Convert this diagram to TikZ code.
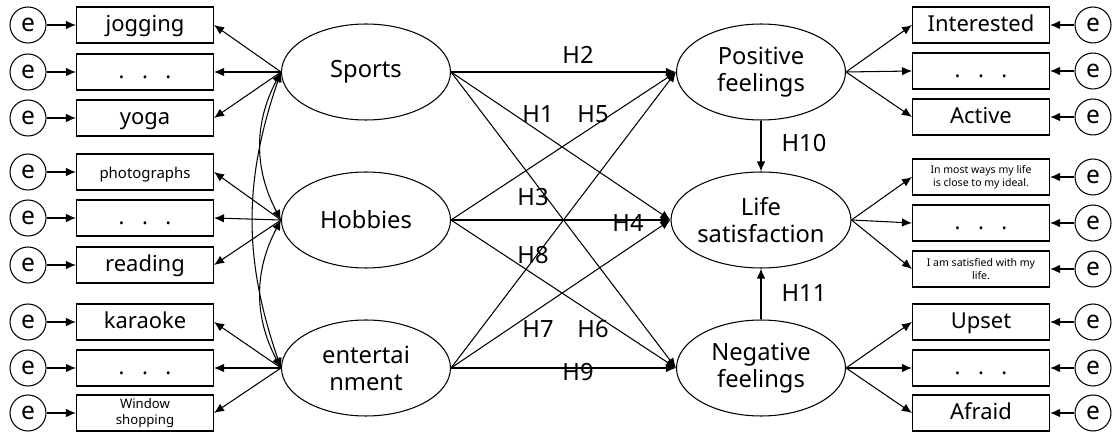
\documentclass[tikz,border=0pt]{standalone}
\usepackage{fontspec}
\setmainfont{Noto Sans}
\usetikzlibrary{arrows.meta, shapes, positioning}
\tikzset{
  latent/.style = {ellipse, draw, minimum width=3.38cm, minimum height=1.92cm,
    inner sep=0pt, align=center, font=\fontsize{13.5}{15.5}\selectfont},
  item/.style = {rectangle, draw, minimum width=2.74cm, minimum height=0.72cm,
    inner sep=1pt, align=center, font=\fontsize{12.5}{15}\selectfont},
  oneline/.style = {text height=1.6ex, text depth=0.2ex},
  smalltext/.style = {font=\fontsize{8.5}{10}\selectfont},
  tinytext/.style = {font=\fontsize{6}{7.5}\selectfont},
  err/.style = {circle, draw, minimum size=0.72cm, inner sep=0pt,
    font=\fontsize{14}{15}\selectfont},
  link/.style = {-{Latex[length=2mm, width=1.7mm]}},
  cov/.style = {{Latex[length=2mm, width=1.7mm]}-{Latex[length=2mm, width=1.7mm]}},
  hyp/.style = {font=\fontsize{13.5}{15}\selectfont, inner sep=0pt}
}
\newcommand\itemdots{\textbf{.}\hspace{0.35cm}\textbf{.}\hspace{0.35cm}\textbf{.}}

\begin{document}
\begin{tikzpicture}[x=0.02cm, y=-0.02cm, line width=0.6pt]
  \useasboundingbox (0,0) rectangle (1113,432);

  % Latent variables
  \node[latent] (sports) at (366,72) {Sports};
  \node[latent] (hobbies) at (366,220) {Hobbies};
  \node[latent] (ent) at (366,368) {entertai\\nment};
  \node[latent] (pos) at (761,72) {Positive\\feelings};
  \node[latent] (life) at (761,220) {Life\\satisfaction};
  \node[latent] (neg) at (761,368) {Negative\\feelings};

  % Items, left
  \node[item, oneline] (jog) at (145,25) {jogging};
  \node[item, oneline] (sdots) at (145,72) {\itemdots};
  \node[item, oneline] (yoga) at (145,118) {yoga};
  \node[item, oneline, smalltext] (photo) at (145,172) {photographs};
  \node[item, oneline] (hdots) at (145,218) {\itemdots};
  \node[item, oneline] (read) at (145,265) {reading};
  \node[item, oneline] (kara) at (145,322) {karaoke};
  \node[item, oneline] (edots) at (145,368) {\itemdots};
  \node[item, font=\fontsize{7.5}{9}\selectfont] (window) at (145,413) {Window\\shopping};

  % Items, right
  \node[item, oneline] (inter) at (981,25) {Interested};
  \node[item, oneline] (pdots) at (981,71) {\itemdots};
  \node[item, oneline] (active) at (981,117) {Active};
  \node[item, tinytext] (ideal) at (981,177) {In most ways my life\\is close to my ideal.};
  \node[item, oneline] (ldots) at (981,223) {\itemdots};
  \node[item, tinytext] (satis) at (981,269) {I am satisfied with my\\life.};
  \node[item, oneline] (upset) at (981,322) {Upset};
  \node[item, oneline] (ndots) at (981,368) {\itemdots};
  \node[item, oneline] (afraid) at (981,413) {Afraid};

  % Error terms
  \foreach \n/\y in {jog/25, sdots/72, yoga/118, photo/172, hdots/218, read/265,
                     kara/322, edots/368, window/413} {
    \node[err] (e-\n) at (28,\y) {e};
    \draw[link] (e-\n) -- (\n);
  }
  \foreach \n/\y in {inter/25, pdots/71, active/117, ideal/177, ldots/223, satis/269,
                     upset/322, ndots/368, afraid/413} {
    \node[err] (e-\n) at (1093,\y) {e};
    \draw[link] (e-\n) -- (\n);
  }

  % Loadings
  \foreach \f/\a/\b/\c in {sports/jog/sdots/yoga, hobbies/photo/hdots/read,
                           ent/kara/edots/window} {
    \draw[link] (\f.west) -- (\a.east);
    \draw[link] (\f.west) -- (\b.east);
    \draw[link] (\f.west) -- (\c.east);
  }
  \foreach \f/\a/\b/\c in {pos/inter/pdots/active, life/ideal/ldots/satis,
                           neg/upset/ndots/afraid} {
    \draw[link] (\f.east) -- (\a.west);
    \draw[link] (\f.east) -- (\b.west);
    \draw[link] (\f.east) -- (\c.west);
  }

  % Covariances
  \draw[cov] (sports.west) to[bend right=28] (hobbies.west);
  \draw[cov] (hobbies.west) to[bend right=28] (ent.west);
  \draw[cov] (sports.west) to[bend right=19] (ent.west);

  % Hypotheses
  \draw[link] (sports.east) -- (pos.west);
  \draw[link] (sports.east) -- (life.west);
  \draw[link] (sports.east) -- (neg.west);
  \draw[link] (hobbies.east) -- (pos.west);
  \draw[link] (hobbies.east) -- (life.west);
  \draw[link] (hobbies.east) -- (neg.west);
  \draw[link] (ent.east) -- (pos.west);
  \draw[link] (ent.east) -- (life.west);
  \draw[link] (ent.east) -- (neg.west);
  \draw[link] (pos) -- (life);
  \draw[link] (neg) -- (life);

  \node[hyp] (h2) at (578,55) {H2};
  \node[hyp] (h1) at (538,114) {H1};
  \node[hyp] (h5) at (593,114) {H5};
  \node[hyp] (h3) at (533,197) {H3};
  \node[hyp] (h4) at (628,223) {H4};
  \node[hyp] (h8) at (533,255) {H8};
  \node[hyp] (h7) at (538,329) {H7};
  \node[hyp] (h6) at (593,329) {H6};
  \node[hyp] (h9) at (578,372) {H9};
  \node[hyp] (h10) at (804,143) {H10};
  \node[hyp] (h11) at (804,293) {H11};

\end{tikzpicture}
\end{document}
